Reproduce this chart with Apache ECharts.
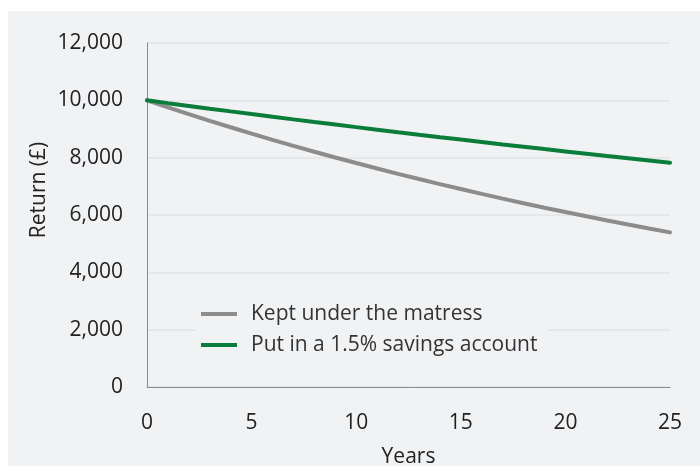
<!DOCTYPE html>
<html>
<head>
<meta charset="utf-8">
<script src="https://cdn.jsdelivr.net/npm/echarts@6/dist/echarts.min.js"></script>
<style>
html,body{margin:0;padding:0;background:#fff;}
#wrap{position:relative;width:700px;height:466px;background:#fff;}
#chart{position:absolute;left:8px;top:11px;width:692px;height:455px;background:#f1f2f4;}
</style>
</head>
<body>
<div id="wrap"><div id="chart"></div></div>
<script>
// years 0..25, value of £10,000
var years = [0,1,2,3,4,5,6,7,8,9,10,11,12,13,14,15,16,17,18,19,20,21,22,23,24,25];
var matress = [10000,9756,9518,9286,9060,8839,8623,8413,8207,8007,7812,7621,7436,7254,7077,6905,6736,6572,6412,6255,6103,5954,5809,5667,5529,5394];
var savings = [10000,9902,9806,9710,9615,9521,9428,9336,9245,9155,9065,8977,8889,8802,8716,8631,8547,8463,8381,8299,8218,8138,8058,7980,7902,7825];
var seriesNames = ['Kept under the matress','Put in a 1.5% savings account'];
var colors = ['#8c8c8c','#0a7d3a'];

function pairs(vals){
  var out=[];
  for(var i=0;i<years.length;i++){ out.push([years[i], vals[i]]); }
  return out;
}

var myChart = echarts.init(document.getElementById('chart'));
var font = '"Open Sans", "Noto Sans", sans-serif';
var option = {
  animation:false,
  textStyle:{fontFamily:font},
  grid:{left:139, right:30, top:32, bottom:79, outerBoundsMode:'none', containLabel:false},
  legend:{
    orient:'vertical',
    left:187, top:284,
    padding:[8,10,8,6],
    backgroundColor:'#f1f2f4',
    icon:'rect',
    itemWidth:36, itemHeight:4,
    itemGap:9,
    textStyle:{fontFamily:font, fontSize:21, color:'#333', lineHeight:22, padding:[0,0,0,9]},
    data:seriesNames
  },
  xAxis:{
    type:'value', min:0, max:25, interval:5,
    name:'Years', nameLocation:'middle', nameGap:60,
    nameTextStyle:{fontFamily:font, fontSize:21, color:'#222'},
    axisLine:{show:true, lineStyle:{color:'#8a8a8a', width:1}},
    axisTick:{show:false},
    splitLine:{show:false},
    axisLabel:{fontFamily:font, fontSize:21, color:'#222', margin:26}
  },
  yAxis:{
    type:'value', min:0, max:12000, interval:2000,
    name:'Return (£)', nameLocation:'middle', nameGap:97, nameMoveOverlap:false,
    nameTextStyle:{fontFamily:font, fontSize:21, color:'#222', padding:[0,0,0,50]},
    axisLine:{show:true, lineStyle:{color:'#8a8a8a', width:1}},
    axisTick:{show:false},
    splitLine:{show:true, lineStyle:{color:'#e2e3e5', width:1.5}},
    axisLabel:{fontFamily:font, fontSize:21, color:'#222', margin:24,
      formatter:function(v){ return v.toLocaleString('en-GB'); }}
  },
  series:[
    {name:seriesNames[0], type:'line', data:pairs(matress), showSymbol:false,
     lineStyle:{color:colors[0], width:4, cap:'round'}, itemStyle:{color:colors[0]}},
    {name:seriesNames[1], type:'line', data:pairs(savings), showSymbol:false,
     lineStyle:{color:colors[1], width:4, cap:'round'}, itemStyle:{color:colors[1]}}
  ]
};
myChart.setOption(option);
</script>
</body>
</html>
